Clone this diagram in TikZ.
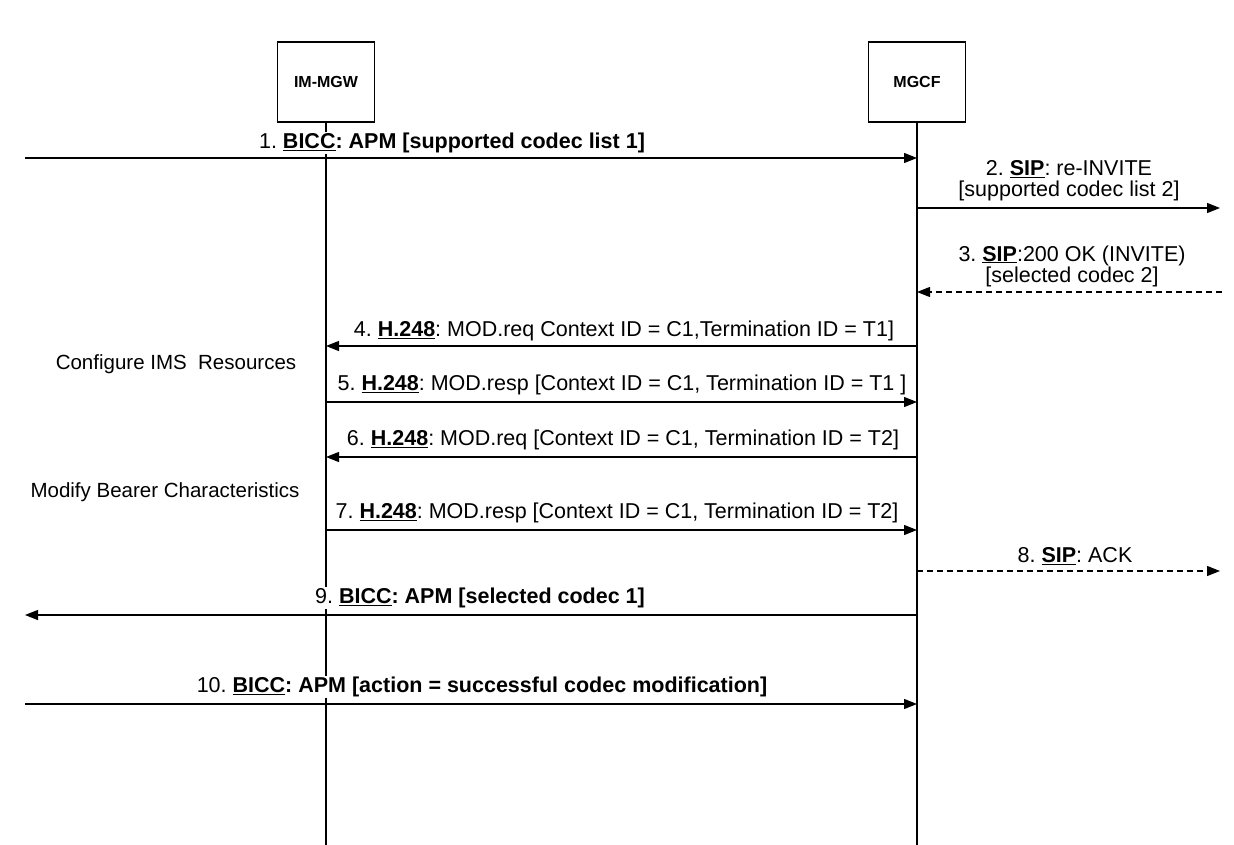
\documentclass[tikz,border=0pt]{standalone}
\usepackage{fontspec}
\setmainfont{Liberation Sans}
\usetikzlibrary{arrows.meta}
\frenchspacing

\begin{document}
\begin{tikzpicture}[x=1pt,y=-1pt,
  ent/.style={draw,line width=1.1pt,minimum width=97pt,minimum height=80pt,font=\fontsize{16}{18}\selectfont\bfseries},
  life/.style={line width=1.1pt},
  msg/.style={line width=1.1pt,-{Triangle[length=13pt,width=10pt]}},
  reply/.style={msg,dash pattern=on 6pt off 4pt},
  lbl/.style={fill=white,inner sep=1pt,align=center,font=\fontsize{21.5}{21}\selectfont},
  note/.style={font=\fontsize{20.5}{22}\selectfont}]
\useasboundingbox (0,0) rectangle (1234,845);
\node[ent] (mgw) at (326,82) {IM-MGW};
\node[ent] (mgcf) at (917,82) {MGCF};
\coordinate (bot) at (0,845);
\draw[life] (mgw.south) -- (mgw.south |- bot);
\draw[life] (mgcf.south) -- (mgcf.south |- bot);
\path (452,143) node[lbl] (t1) {1. \underline{\textbf{BICC}}\textbf{: APM [supported codec list 1]}}
      (1069,181) node[lbl] (t2) {2. \underline{\textbf{SIP}}: re-INVITE\\{}[supported codec list 2]}
      (1072,266) node[lbl] (t3) {3. \underline{\textbf{SIP}}:200 OK (INVITE)\\{}[selected codec 2]}
      (624,331) node[lbl] (t4) {4. \underline{\textbf{H.248}}: MOD.req Context ID = C1,Termination ID = T1]}
      (622,385) node[lbl] (t5) {5. \underline{\textbf{H.248}}: MOD.resp [Context ID = C1, Termination ID = T1 ]}
      (623,440) node[lbl] (t6) {6. \underline{\textbf{H.248}}: MOD.req [Context ID = C1, Termination ID = T2]}
      (617,513) node[lbl] (t7) {7. \underline{\textbf{H.248}}: MOD.resp [Context ID = C1, Termination ID = T2]}
      (1075,556) node[lbl] (t8) {8. \underline{\textbf{SIP}}: ACK}
      (480,598) node[lbl] (t9) {9. \underline{\textbf{BICC}}\textbf{: APM [selected codec 1]}}
      (482,687) node[lbl] (t10) {10. \underline{\textbf{BICC}}\textbf{: APM [action = successful codec modification]}}
      ;
\node[note] (cfg) at (176,364) {Configure IMS~~Resources};
\node[note] (mod) at (165,492) {Modify Bearer Characteristics};
% message ends
\coordinate (w1) at (25,158);
\coordinate (e2) at (1220,208);
\coordinate (e3) at (1222,292);
\coordinate (y4) at (0,346);
\coordinate (y5) at (0,402);
\coordinate (y6) at (0,457);
\coordinate (y7) at (0,530);
\coordinate (e8) at (1220,571);
\coordinate (w9) at (25,615);
\coordinate (w10) at (25,704);
\draw[msg] (w1) -- (mgcf |- w1);
\draw[msg] (mgcf |- e2) -- (e2);
\draw[reply] (e3) -- (mgcf |- e3);
\draw[msg] (mgcf |- y4) -- (mgw |- y4);
\draw[msg] (mgw |- y5) -- (mgcf |- y5);
\draw[msg] (mgcf |- y6) -- (mgw |- y6);
\draw[msg] (mgw |- y7) -- (mgcf |- y7);
\draw[reply] (mgcf |- e8) -- (e8);
\draw[msg] (mgcf |- w9) -- (w9);
\draw[msg] (w10) -- (mgcf |- w10);
\end{tikzpicture}
\end{document}
